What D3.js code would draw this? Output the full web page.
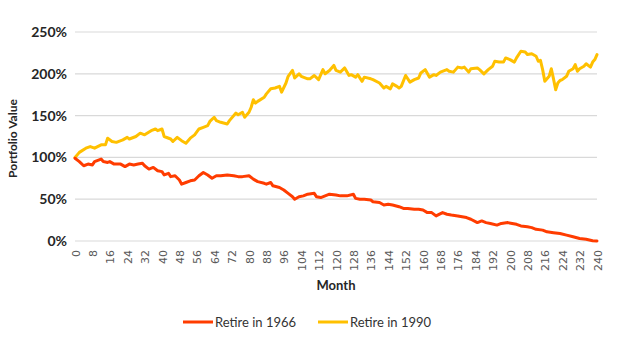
<!DOCTYPE html>
<html>
<head>
<meta charset="utf-8">
<script src="https://cdn.jsdelivr.net/npm/d3@7/dist/d3.min.js"></script>
<style>
  html, body { margin: 0; padding: 0; background: #fff; }
  svg { display: block; }
</style>
</head>
<body>
<svg id="chart" width="620" height="342"></svg>
<script>
// Portfolio value (% of starting balance) by month of retirement
const retire1966Months = [0,2,4,6,8,9,12,13,15,16,18,21,23,25,27,29,31,32,34,36,38,40,41,43,44,46,48,49,51,53,55,57,59,61,63,65,67,70,73,75,77,80,82,84,87,88,90,91,94,96,98,100,101,103,105,107,110,111,113,115,117,120,122,125,128,129,131,133,136,137,140,142,144,146,149,151,153,156,158,160,162,164,166,169,171,173,176,178,180,182,185,187,189,191,194,196,199,201,203,205,208,210,212,215,217,220,223,226,229,232,235,238,240];
const retire1966Values = [99,95,90,92,91,95,98,95,94,95,92,92,89,92,91,92,93,90,86,88,84,83,79,81,77,78,73,68,70,72,73,78,82,79,75,78,78,79,78,77,77,78,74,71,69,68,70,66,64,61,57,53,50,53,54,56,57,53,52,54,56,55,54,54,56,51,50,50,49,47,46,43,44,43,41,39,39,38,38,37,34,34,30,34,32,31,30,29,28,26,22,24,22,21,19,21,22,21,20,18,17,16,14,13,11,10,9,7,5,3,2,0.4,0];

const retire1990Months = [0,2,5,7,9,12,14,15,17,19,22,24,25,28,30,32,35,37,38,40,41,44,45,47,49,51,53,55,57,59,61,62,64,65,67,70,71,74,75,77,78,80,81,82,83,84,87,88,90,92,94,95,97,98,100,101,103,104,107,108,110,112,114,115,117,119,120,122,124,126,127,129,130,132,133,136,137,140,142,143,145,146,148,149,150,152,154,156,158,159,161,163,165,166,168,171,172,174,176,178,179,181,182,185,186,188,190,192,193,195,197,198,200,202,203,205,207,208,210,212,213,214,215,216,218,219,220,221,222,223,224,226,227,229,230,231,232,234,235,237,238,239,240];
const retire1990Values = [100,106,111,113,111,115,115,123,119,118,121,124,122,125,129,127,132,134,132,134,125,122,119,124,120,117,123,127,134,136,138,143,148,144,142,140,144,153,151,154,148,154,160,169,165,167,172,176,182,183,185,178,189,197,204,195,200,197,194,194,198,193,205,200,204,210,204,202,207,198,199,196,199,191,196,194,193,189,183,185,182,188,185,183,185,198,190,193,195,201,205,196,199,198,202,205,203,202,208,207,208,202,206,207,205,200,205,209,215,214,214,219,217,214,219,227,226,223,224,221,215,216,205,191,197,206,194,181,189,192,193,197,203,206,211,203,206,209,212,208,214,217,223];

const yTicks = [0, 50, 100, 150, 200, 250];
const xTicks = d3.range(0, 241, 8);

const seriesNames = ["Retire in 1966", "Retire in 1990"];
const seriesColors = ["#ff3c00", "#ffc000"];

const svg = d3.select("#chart");
const margin = { left: 75, right: 23, top: 32, bottom: 101 };
const W = 620, H = 342;

const x = d3.scaleLinear().domain([0, 240]).range([margin.left, W - margin.right]);
const y = d3.scaleLinear().domain([0, 250]).range([H - margin.bottom, margin.top]);

// Horizontal gridlines
svg.append("g")
  .selectAll("line")
  .data(yTicks)
  .join("line")
  .attr("x1", x(0)).attr("x2", x(240))
  .attr("y1", d => y(d)).attr("y2", d => y(d))
  .attr("stroke", "#d9d9d9")
  .attr("stroke-width", 1.2);

// Y axis labels
const yAxis = svg.append("g")
  .attr("transform", `translate(${margin.left},0)`)
  .call(d3.axisLeft(y).tickValues(yTicks).tickFormat(d => d + "%").tickSize(0).tickPadding(8));
yAxis.select(".domain").remove();
yAxis.selectAll("text")
  .attr("font-family", "Lato, sans-serif")
  .attr("font-weight", 700)
  .attr("font-size", 14)
  .attr("fill", "#262626");

// X axis labels, rotated
const xAxis = svg.append("g")
  .attr("transform", `translate(0,${y(0)})`)
  .call(d3.axisBottom(x).tickValues(xTicks).tickSize(0).tickPadding(0));
xAxis.select(".domain").remove();
xAxis.selectAll("text")
  .attr("font-family", "DejaVu Sans, sans-serif")
  .attr("font-size", 11)
  .attr("fill", "#595959")
  .attr("text-anchor", "end")
  .attr("dy", null)
  .attr("transform", "translate(4,9) rotate(-90)");

// Axis titles
svg.append("text")
  .attr("x", (x(0) + x(240)) / 2)
  .attr("y", 290)
  .attr("text-anchor", "middle")
  .attr("font-family", "Lato, sans-serif")
  .attr("font-weight", 700)
  .attr("font-size", 13)
  .attr("fill", "#262626")
  .text("Month");

svg.append("text")
  .attr("transform", `translate(17,${(y(0) + y(250)) / 2 + 2}) rotate(-90)`)
  .attr("text-anchor", "middle")
  .attr("font-family", "Lato, sans-serif")
  .attr("font-weight", 700)
  .attr("font-size", 12)
  .attr("fill", "#262626")
  .text("Portfolio Value");

// Lines
const line = d3.line().x(d => x(d[0])).y(d => y(d[1])).curve(d3.curveLinear);
const series = [
  d3.zip(retire1966Months, retire1966Values),
  d3.zip(retire1990Months, retire1990Values)
];
// Draw the 1990 series first so the 1966 series sits on top at the shared start
[1, 0].forEach(i => {
  svg.append("path")
    .datum(series[i])
    .attr("d", line)
    .attr("fill", "none")
    .attr("stroke", seriesColors[i])
    .attr("stroke-width", 3)
    .attr("stroke-linejoin", "round")
    .attr("stroke-linecap", "round");
});

// Legend
const legendX = [183, 318];
const legend = svg.append("g");
seriesNames.forEach((name, i) => {
  legend.append("line")
    .attr("x1", legendX[i]).attr("x2", legendX[i] + 30)
    .attr("y1", 322).attr("y2", 322)
    .attr("stroke", seriesColors[i])
    .attr("stroke-width", 3);
  legend.append("text")
    .attr("x", legendX[i] + 32)
    .attr("y", 322)
    .attr("dy", "0.35em")
    .attr("font-family", "Lato, sans-serif")
    .attr("font-size", 13)
    .attr("fill", "#333")
    .text(name);
});
</script>
</body>
</html>
